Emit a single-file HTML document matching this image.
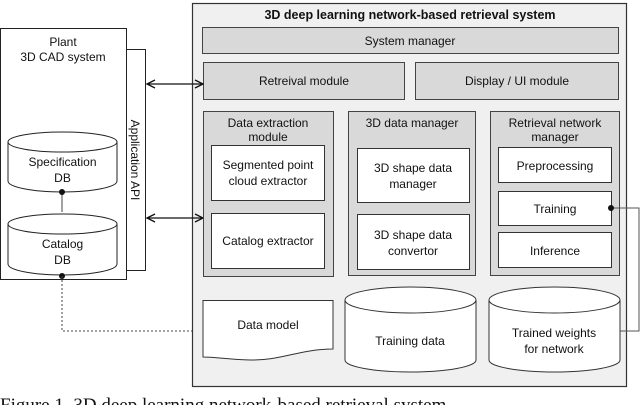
<!DOCTYPE html>
<html><head><style>
html,body{margin:0;padding:0;background:#fff;width:640px;height:405px;overflow:hidden}
svg text{font-family:"Liberation Sans",Arial,sans-serif;font-size:12px;fill:#111}
</style></head><body>
<svg width="640" height="405" viewBox="0 0 640 405" xmlns="http://www.w3.org/2000/svg">
<defs>
<marker id="ah" markerWidth="10" markerHeight="10" refX="9" refY="5" orient="auto-start-reverse" markerUnits="userSpaceOnUse">
<path d="M1,1 L9,5 L1,9" fill="none" stroke="#111" stroke-width="1.3"/>
</marker>
</defs>
<rect x="0.5" y="28.5" width="126" height="251" fill="#fff" stroke="#222"/>
<text x="63" y="46" text-anchor="middle">Plant</text>
<text x="63" y="61" text-anchor="middle">3D CAD system</text>
<rect x="126.5" y="49.5" width="19" height="221" fill="#fff" stroke="#222"/>
<text transform="translate(131,160) rotate(90)" text-anchor="middle">Application API</text>
<path d="M8,142 L8,181 A54.5,11 0 0 0 117,181 L117,142" fill="#fff" stroke="#222"/>
<ellipse cx="62.5" cy="142" rx="54.5" ry="10" fill="#fff" stroke="#222"/>
<text x="62.5" y="166" text-anchor="middle">Specification</text>
<text x="62.5" y="182" text-anchor="middle">DB</text>
<line x1="62" y1="192" x2="62" y2="212" stroke="#444"/>
<path d="M8,224 L8,264 A54.5,11 0 0 0 117,264 L117,224" fill="#fff" stroke="#222"/>
<ellipse cx="62.5" cy="224" rx="54.5" ry="10" fill="#fff" stroke="#222"/>
<text x="62.5" y="248" text-anchor="middle">Catalog</text>
<text x="62.5" y="264" text-anchor="middle">DB</text>
<circle cx="62" cy="192" r="3" fill="#111"/>
<circle cx="62" cy="276" r="3" fill="#111"/>
<path d="M62,276 L62,331 L203,331" fill="none" stroke="#444" stroke-dasharray="2,2"/>
<rect x="192.5" y="3.5" width="434" height="383" fill="#f0f0f0" stroke="#333" stroke-width="1.2"/>
<text x="410" y="19" text-anchor="middle" style="font-weight:bold;font-size:12.5px">3D deep learning network-based retrieval system</text>
<rect x="202.5" y="27.5" width="416" height="26" fill="#d9d9d9" stroke="#444"/>
<text x="410" y="45" text-anchor="middle">System manager</text>
<rect x="203.5" y="62.5" width="201" height="37" fill="#d9d9d9" stroke="#444"/>
<text x="304" y="85" text-anchor="middle">Retreival module</text>
<rect x="415.5" y="62.5" width="203" height="37" fill="#d9d9d9" stroke="#444"/>
<text x="517" y="85" text-anchor="middle">Display / UI module</text>
<line x1="147" y1="84" x2="203" y2="84" stroke="#111" stroke-width="1.3" marker-start="url(#ah)" marker-end="url(#ah)"/>
<line x1="147" y1="218" x2="203" y2="218" stroke="#111" stroke-width="1.3" marker-start="url(#ah)" marker-end="url(#ah)"/>
<rect x="203.5" y="111.5" width="130" height="165" fill="#d9d9d9" stroke="#444"/>
<text x="268" y="127" text-anchor="middle">Data extraction</text>
<text x="268" y="141" text-anchor="middle">module</text>
<rect x="211.5" y="145.5" width="113" height="55" fill="#fff" stroke="#333"/>
<text x="268" y="169" text-anchor="middle">Segmented point</text>
<text x="268" y="185" text-anchor="middle">cloud extractor</text>
<rect x="211.5" y="213.5" width="113" height="55" fill="#fff" stroke="#333"/>
<text x="268" y="245" text-anchor="middle">Catalog extractor</text>
<rect x="348.5" y="111.5" width="127" height="164" fill="#d9d9d9" stroke="#444"/>
<text x="412" y="127" text-anchor="middle">3D data manager</text>
<rect x="357.5" y="148.5" width="112" height="54" fill="#fff" stroke="#333"/>
<text x="413" y="172" text-anchor="middle">3D shape data</text>
<text x="413" y="188" text-anchor="middle">manager</text>
<rect x="357.5" y="214.5" width="112" height="55" fill="#fff" stroke="#333"/>
<text x="413" y="239" text-anchor="middle">3D shape data</text>
<text x="413" y="255" text-anchor="middle">convertor</text>
<rect x="490.5" y="111.5" width="129" height="164" fill="#d9d9d9" stroke="#444"/>
<text x="555" y="127" text-anchor="middle">Retrieval network</text>
<text x="555" y="141" text-anchor="middle">manager</text>
<rect x="498.5" y="147.5" width="113" height="35" fill="#fff" stroke="#333"/>
<text x="555" y="170" text-anchor="middle">Preprocessing</text>
<rect x="498.5" y="191.5" width="113" height="34" fill="#fff" stroke="#333"/>
<text x="555" y="213" text-anchor="middle">Training</text>
<rect x="498.5" y="232.5" width="113" height="35" fill="#fff" stroke="#333"/>
<text x="555" y="255" text-anchor="middle">Inference</text>
<path d="M611,208 L639,208 L639,331 L620,331" fill="none" stroke="#555"/>
<circle cx="611" cy="208" r="3" fill="#111"/>
<path d="M203,300.5 L333,300.5 L333,349 C300,349 280,361 250,360 C225,359 215,357 203,357 Z" fill="#fff" stroke="#333"/>
<text x="268" y="329" text-anchor="middle">Data model</text>
<path d="M345,300 L345,360 A65.5,12 0 0 0 476,360 L476,300" fill="#fff" stroke="#333"/>
<ellipse cx="410.5" cy="300" rx="65.5" ry="13" fill="#fff" stroke="#333"/>
<text x="410" y="345" text-anchor="middle">Training data</text>
<path d="M489,300 L489,360 A65.5,12 0 0 0 620,360 L620,300" fill="#fff" stroke="#333"/>
<ellipse cx="554.5" cy="300" rx="65.5" ry="13" fill="#fff" stroke="#333"/>
<text x="554" y="337" text-anchor="middle">Trained weights</text>
<text x="554" y="353" text-anchor="middle">for network</text>
<text x="0" y="411" style="font-family:'Liberation Serif',serif;font-size:19px">Figure 1. 3D deep learning network-based retrieval system</text>
</svg>
</body></html>
